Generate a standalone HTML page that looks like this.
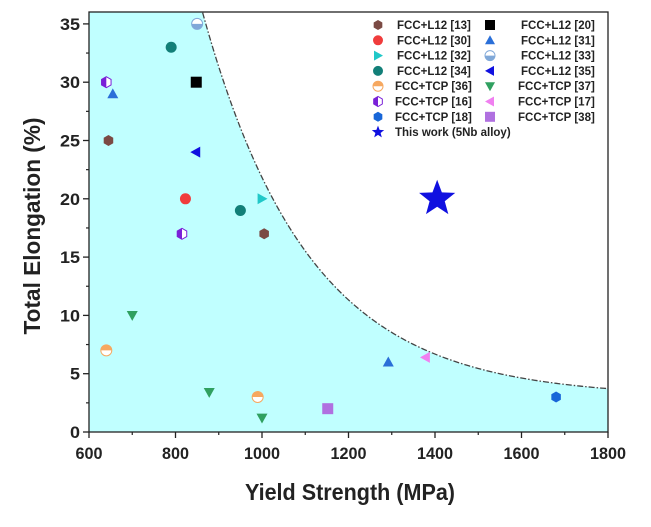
<!DOCTYPE html>
<html><head><meta charset="utf-8"><style>
body{margin:0;background:#fff;}
svg{display:block;font-family:"Liberation Sans",Arial,sans-serif;}
</style></head><body>
<svg id="chart" width="651" height="527" viewBox="0 0 651 527">
<defs>
<clipPath id="pc"><rect x="89" y="12" width="519" height="420"/></clipPath>
</defs>
<g id="plot"></g>
</svg>
<script>
const xTicks=[600,800,1000,1200,1400,1600,1800];
const yTicks=[0,5,10,15,20,25,30,35];
const seriesNames=["FCC+L12 [13]","FCC+L12 [20]","FCC+L12 [30]","FCC+L12 [31]","FCC+L12 [32]","FCC+L12 [33]","FCC+L12 [34]","FCC+L12 [35]","FCC+TCP [36]","FCC+TCP [37]","FCC+TCP [16]","FCC+TCP [17]","FCC+TCP [18]","FCC+TCP [38]","This work (5Nb alloy)"];
const seriesShapes=["hex","square","circle","up","right","halfTopWhite","circle","left","halfTopColor","down","halfHexL","left","hex","square","star"];
const seriesColors=["#7b4a44","#000000","#f03c3c","#2a6fd8","#20c8c8","#80a8d8","#127f78","#1010e0","#f6a860","#30a060","#7a20d8","#f080f0","#1866d8","#b070e0","#1010e0"];
const s13x=[645,1005], s13y=[25,17];
const s20x=[848], s20y=[30];
const s30x=[823], s30y=[20];
const s31x=[655,1292], s31y=[29,6];
const s32x=[1000], s32y=[20];
const s33x=[850], s33y=[35];
const s34x=[790,950], s34y=[33,19];
const s35x=[847], s35y=[24];
const s36x=[640,990], s36y=[7,3];
const s37x=[700,878,1000], s37y=[10,3.4,1.2];
const s16x=[640,815], s16y=[30,17];
const s17x=[1378], s17y=[6.4];
const s18x=[1680], s18y=[3];
const s38x=[1152], s38y=[2];
const starX=[1405], starY=[20];
const boundaryA=32.8, boundaryK=0.00408, boundaryX0=864, boundaryC=3;

const seriesX=[s13x,s20x,s30x,s31x,s32x,s33x,s34x,s35x,s36x,s37x,s16x,s17x,s18x,s38x,starX];
const seriesY=[s13y,s20y,s30y,s31y,s32y,s33y,s34y,s35y,s36y,s37y,s16y,s17y,s18y,s38y,starY];

const L=89,R=608,T=12,B=432;
const xs=v=>L+(v-600)*(R-L)/1200;
const ys=v=>B-v*11.66;
const NS="http://www.w3.org/2000/svg";
const g=document.getElementById('plot');
function mk(tag,attrs,parent){const e=document.createElementNS(NS,tag);for(const k in attrs)e.setAttribute(k,attrs[k]);(parent||g).appendChild(e);return e;}

let pts=[];
for(let v=600;v<=1800;v+=5){const yv=boundaryA*Math.exp(-boundaryK*(v-boundaryX0))+boundaryC;pts.push([xs(v),ys(Math.min(yv,40))]);}
const cg=mk('g',{'clip-path':'url(#pc)'});


const area=mk('path',{d:'M'+L+','+B+' L'+pts.map(p=>p.join(',')).join(' L')+' L'+R+','+B+' Z',fill:'#c0ffff',stroke:'none'},cg);


const bl=mk('path',{d:'M'+pts.map(p=>p.join(',')).join(' L'),fill:'none',stroke:'#444','stroke-width':1.3,'stroke-dasharray':'6,2,1.5,2'},cg);



const fr=mk('rect',{x:L,y:T,width:R-L,height:B-T,fill:'none',stroke:'#222','stroke-width':1.3});



xTicks.forEach((t,i)=>{
  mk('line',{x1:xs(t),x2:xs(t),y1:B,y2:B+6,stroke:'#222','stroke-width':1.3});
  if(i<xTicks.length-1) mk('line',{x1:xs(t+100),x2:xs(t+100),y1:B,y2:B+3,stroke:'#222','stroke-width':1.2});
  const tx=mk('text',{x:xs(t),y:B+27,'text-anchor':'middle','font-size':17,'font-weight':'bold',fill:'#222',textLength:String(t).length>3?36:27,lengthAdjust:'spacingAndGlyphs'});
  tx.textContent=t;
  
  
});
yTicks.forEach((t,i)=>{
  mk('line',{x1:L-6,x2:L,y1:ys(t),y2:ys(t),stroke:'#222','stroke-width':1.3});
  if(i<yTicks.length-1) mk('line',{x1:L-3,x2:L,y1:ys(t+2.5),y2:ys(t+2.5),stroke:'#222','stroke-width':1.2});
  const tx=mk('text',{x:L-9,y:ys(t)+6,'text-anchor':'end','font-size':17,'font-weight':'bold',fill:'#222',textLength:String(t).length>1?20:10,lengthAdjust:'spacingAndGlyphs'});
  tx.textContent=t;
  
  
});
const xt=mk('text',{x:350,y:500,'text-anchor':'middle','font-size':23,'font-weight':'bold',fill:'#222',textLength:210,lengthAdjust:'spacingAndGlyphs'});
xt.textContent='Yield Strength (MPa)';


const yt=mk('text',{x:0,y:0,'text-anchor':'middle','font-size':23,'font-weight':'bold',fill:'#222',textLength:217,lengthAdjust:'spacingAndGlyphs',transform:'translate(40,226) rotate(-90)'});
yt.textContent='Total Elongation (%)';



function marker(shape,color,cx,cy,s,parent){
  const p=parent||g; const r=s/2;
  const grp=mk('g',{},p);
  if(shape==='circle'){mk('circle',{cx,cy,r,fill:color},grp);}
  else if(shape==='square'){mk('rect',{x:cx-r,y:cy-r,width:s,height:s,fill:color},grp);}
  else if(shape==='hex'){let q=[];for(let i=0;i<6;i++){const a=Math.PI/3*i+Math.PI/6;q.push((cx+r*Math.cos(a))+','+(cy+r*Math.sin(a)));}mk('polygon',{points:q.join(' '),fill:color},grp);}
  else if(shape==='up'){mk('polygon',{points:`${cx},${cy-r} ${cx+r},${cy+r*0.8} ${cx-r},${cy+r*0.8}`,fill:color},grp);}
  else if(shape==='down'){mk('polygon',{points:`${cx},${cy+r} ${cx+r},${cy-r*0.8} ${cx-r},${cy-r*0.8}`,fill:color},grp);}
  else if(shape==='right'){mk('polygon',{points:`${cx+r},${cy} ${cx-r*0.8},${cy-r} ${cx-r*0.8},${cy+r}`,fill:color},grp);}
  else if(shape==='left'){mk('polygon',{points:`${cx-r},${cy} ${cx+r*0.8},${cy-r} ${cx+r*0.8},${cy+r}`,fill:color},grp);}
  else if(shape==='halfTopWhite'){mk('circle',{cx,cy,r,fill:'#fff',stroke:color,'stroke-width':1},grp);mk('path',{d:`M${cx-r},${cy} A${r},${r} 0 0 0 ${cx+r},${cy} Z`,fill:color},grp);}
  else if(shape==='halfTopColor'){mk('circle',{cx,cy,r,fill:'#fff',stroke:color,'stroke-width':1},grp);mk('path',{d:`M${cx-r},${cy} A${r},${r} 0 0 1 ${cx+r},${cy} Z`,fill:color},grp);}
  else if(shape==='halfHexL'){let q=[];for(let i=0;i<6;i++){const a=Math.PI/3*i+Math.PI/6;q.push((cx+r*Math.cos(a))+','+(cy+r*Math.sin(a)));}mk('polygon',{points:q.join(' '),fill:'#fff',stroke:color,'stroke-width':1},grp);mk('polygon',{points:`${cx},${cy-r} ${cx-r*0.866},${cy-r/2} ${cx-r*0.866},${cy+r/2} ${cx},${cy+r}`,fill:color},grp);}
  else if(shape==='star'){let q=[];for(let i=0;i<10;i++){const rr=i%2?r*0.42:r;const a=-Math.PI/2+i*Math.PI/5;q.push((cx+rr*Math.cos(a))+','+(cy+rr*Math.sin(a)));}mk('polygon',{points:q.join(' '),fill:color},grp);}
  return grp;
}

seriesNames.forEach((n,si)=>{
  seriesX[si].forEach((xv,j)=>{
    const sz=seriesShapes[si]==='star'?38:11;
    const m=marker(seriesShapes[si],seriesColors[si],xs(xv),ys(seriesY[si][j]),sz);
    
    
  });
});

const lg=mk('g',{});


seriesNames.forEach((n,i)=>{
  let col,row;
  if(i===14){col=0;row=7;}else{col=i%2;row=Math.floor(i/2);}
  const mx=col?490:378, ty=25+row*15.3;
  const eg=mk('g',{},lg);
  
  
  marker(seriesShapes[i],seriesColors[i],mx,ty,i===14?13:10,eg);
  const t=mk('text',{x:col?(n.indexOf('TCP')>0?518:521):(n.indexOf('TCP')>0||i===14?395:397),y:ty+4,'font-size':11.5,'font-weight':'bold',fill:'#222'},eg);
  t.textContent=n;
});
</script>
</body></html>
